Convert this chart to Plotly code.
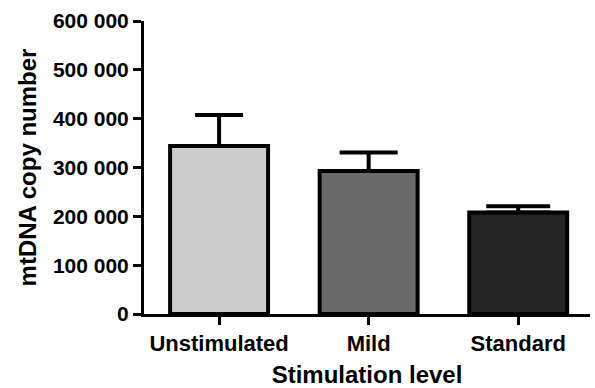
import plotly.graph_objects as go

categories = ["Unstimulated", "Mild", "Standard"]
values = [344000, 293000, 208000]
errors_upper = [63500, 37500, 12500]
bar_colors = ["#cdcdcd", "#6a6a6a", "#252525"]
cap_half_widths = [24, 29, 32]

y_tick_vals = [0, 100000, 200000, 300000, 400000, 500000, 600000]
y_tick_labels = ["0", "100 000", "200 000", "300 000", "400 000", "500 000", "600 000"]

FONT = "Arial, 'Liberation Sans', sans-serif"

fig = go.Figure()
for cat, val, err, col, cw in zip(categories, values, errors_upper, bar_colors, cap_half_widths):
    fig.add_trace(go.Bar(
        x=[cat], y=[val],
        marker=dict(color=col, line=dict(color="black", width=4)),
        width=0.655,
        error_y=dict(type="data", array=[err], arrayminus=[0], symmetric=False,
                     color="black", thickness=4, width=cw),
        showlegend=False,
    ))

fig.update_layout(
    width=595, height=388,
    margin=dict(l=144, r=5, t=21, b=74, autoexpand=False),
    plot_bgcolor="white", paper_bgcolor="white",
    font=dict(family=FONT, color="black"),
    xaxis=dict(
        range=[-0.502, 2.48], automargin=False,
        showline=True, linecolor="black", linewidth=3,
        ticks="outside", ticklen=8, tickwidth=3, tickcolor="black",
        tickfont=dict(size=22, weight="bold"),
        title=dict(text="Stimulation level", font=dict(size=24, weight="bold"), standoff=12),
        showgrid=False, zeroline=False,
    ),
    yaxis=dict(
        range=[0, 600000], automargin=False,
        tickvals=y_tick_vals, ticktext=y_tick_labels,
        showline=True, linecolor="black", linewidth=3,
        ticks="outside", ticklen=8, tickwidth=3, tickcolor="black",
        tickfont=dict(size=21, weight="bold"),
        title=dict(text="mtDNA copy number", font=dict(size=24, weight="bold"), standoff=10),
        showgrid=False, zeroline=False,
    ),
)

fig.write_html("out.html", config={"displayModeBar": False},
               post_script="document.body.style.margin='0';")
